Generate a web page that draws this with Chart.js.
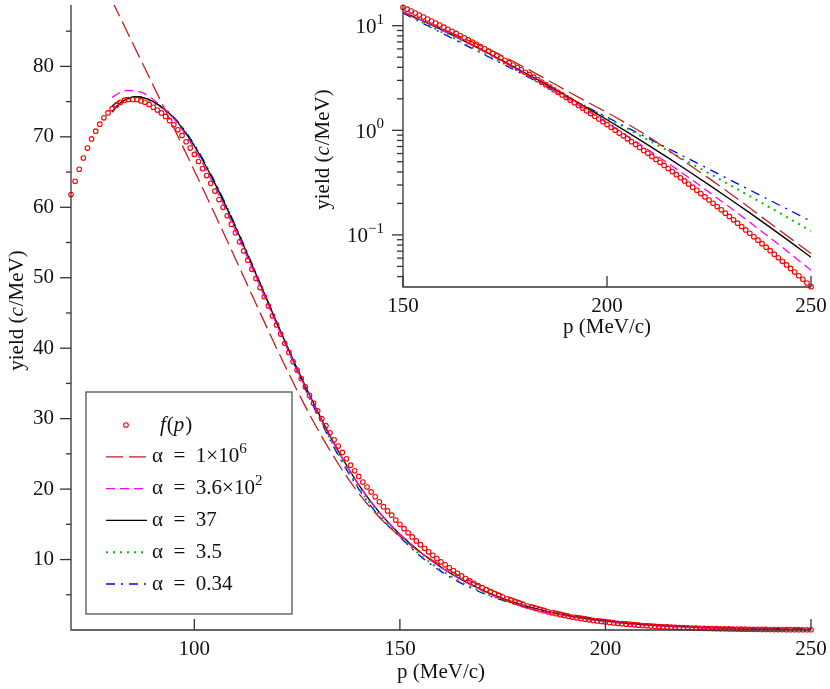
<!DOCTYPE html>
<html>
<head>
<meta charset="utf-8">
<script src="https://cdn.jsdelivr.net/npm/chart.js@4.4.0/dist/chart.umd.min.js"></script>
<style>
  body { margin: 0; background: #fff; }
  #wrap { position: relative; width: 830px; height: 689px; }
  #wrap canvas { position: absolute; top: 0; }
  #mainChart { left: 0; }
  #insetChart { left: 300px; }
</style>
</head>
<body>
<div id="wrap">
  <canvas id="mainChart" width="830" height="689"></canvas>
  <canvas id="insetChart" width="530" height="345"></canvas>
</div>
<script>
// ---- data ----

// momentum grid of the f(p) points, MeV/c
const pF = [70,71,72,73,74,75,76,77,78,79,80,81,82,83,84,85,86,87,88,89,
  90,91,92,93,94,95,96,97,98,99,100,101,102,103,104,105,106,107,108,109,
  110,111,112,113,114,115,116,117,118,119,120,121,122,123,124,125,126,127,128,129,
  130,131,132,133,134,135,136,137,138,139,140,141,142,143,144,145,146,147,148,149,
  150,151,152,153,154,155,156,157,158,159,160,161,162,163,164,165,166,167,168,169,
  170,171,172,173,174,175,176,177,178,179,180,181,182,183,184,185,186,187,188,189,
  190,191,192,193,194,195,196,197,198,199,200,201,202,203,204,205,206,207,208,209,
  210,211,212,213,214,215,216,217,218,219,220,221,222,223,224,225,226,227,228,229,
  230,231,232,233,234,235,236,237,238,239,240,241,242,243,244,245,246,247,248,249,250];

// f(p), yield in c/MeV
const fVals = [61.8,63.7,65.4,67.0,68.4,69.7,70.8,71.8,72.7,73.4,74.0,74.5,74.9,75.2,75.3,75.3,75.3,75.1,74.9,74.6,
  74.2,73.8,73.4,72.9,72.3,71.7,71.0,70.2,69.3,68.4,67.5,66.5,65.5,64.5,63.4,62.3,61.1,60.0,58.8,57.6,
  56.4,55.1,53.8,52.5,51.2,49.9,48.6,47.3,46.0,44.6,43.3,42.0,40.7,39.4,38.1,36.9,35.7,34.5,33.3,32.2,
  31.1,30.0,29.0,28.0,27.0,26.1,25.2,24.3,23.4,22.6,21.8,21.0,20.3,19.6,18.9,18.2,17.5,16.9,16.3,15.6,
  15.0,14.38,13.79,13.21,12.65,12.11,11.59,11.09,10.60,10.14,9.685,9.252,8.834,8.431,8.044,7.671,7.311,6.966,6.636,6.317,
  6.013,5.720,5.439,5.170,4.914,4.668,4.432,4.207,3.992,3.786,3.589,3.401,3.221,3.050,2.886,2.732,2.584,2.442,2.308,2.180,
  2.058,1.943,1.833,1.729,1.630,1.536,1.447,1.363,1.283,1.207,1.135,1.067,1.003,0.942,0.885,0.830,0.779,0.731,0.685,0.642,
  0.602,0.563,0.527,0.494,0.4616,0.4315,0.4034,0.3768,0.3519,0.3285,0.3065,0.2859,0.2666,0.2485,0.2315,0.2156,0.2007,0.1867,0.1737,0.1615,
  0.1501,0.1395,0.1296,0.1203,0.1116,0.1035,0.0960,0.0890,0.0824,0.0763,0.0707,0.0654,0.0605,0.0559,0.0517,0.0478,0.0441,0.0407,0.0376,0.0347,0.0320];

// grid for the fitted curves
const pFit = [80,82,84,86,88,90,95,100,105,110,115,120,125,130,135,140,145,150,
  155,160,165,170,175,180,185,190,195,200,205,210,215,220,225,230,235,240,245,250];

const fit1e6 = [89.3,86.9,84.5,82.1,79.7,77.3,71.3,65.2,59.0,52.7,46.3,40.0,34.0,28.5,23.6,19.4,16.0,13.3,
  11.0,9.16,7.55,6.21,5.01,3.96,3.09,2.40,1.88,1.48,1.15,0.88,0.645,0.473,0.347,0.252,0.181,0.129,0.0927,0.0664];
const fit360 = [75.6,76.3,76.6,76.5,76.1,75.3,72.6,68.3,62.9,56.7,50.1,43.4,36.9,30.9,25.4,20.6,16.7,13.6,
  11.05,8.89,7.10,5.62,4.42,3.45,2.67,2.05,1.557,1.176,0.882,0.655,0.483,0.354,0.2566,0.1848,0.1320,0.0936,0.0658,0.0459];
const fit37 = [73.6,74.8,75.5,75.7,75.5,75.0,72.7,68.7,63.4,57.2,50.5,43.7,37.1,31.0,25.4,20.6,16.7,13.6,
  11.05,8.91,7.14,5.68,4.49,3.53,2.76,2.14,1.648,1.262,0.960,0.726,0.545,0.406,0.301,0.222,0.1624,0.1181,0.0853,0.0612];
const fit3p5 = [73.5,74.7,75.4,75.6,75.4,74.9,72.7,68.8,63.5,57.3,50.6,43.7,37.0,30.7,25.0,20.2,16.3,13.3,
  10.64,8.50,6.78,5.39,4.28,3.40,2.69,2.12,1.675,1.318,1.036,0.812,0.636,0.497,0.388,0.302,0.2349,0.1823,0.1411,0.1091];
const fit0p34 = [74.4,75.2,75.6,75.7,75.5,75.0,72.8,68.9,63.6,57.4,50.6,43.6,36.8,30.5,24.8,20.0,16.1,13.2,
  10.46,8.32,6.62,5.27,4.19,3.33,2.65,2.11,1.677,1.334,1.061,0.844,0.671,0.534,0.425,0.338,0.2687,0.2137,0.1700,0.1352];

// ticks
const mainXTicks = [100, 150, 200, 250];
const mainYTicks = [10, 20, 30, 40, 50, 60, 70, 80];
const mainYMinor = [5, 15, 25, 35, 45, 55, 65, 75, 85];
const insetXTicks = [150, 200, 250];
const insetYTicks = [0.1, 1, 10];
const insetYExp = ['\u22121', '0', '1'];

// legend text, pieces so that italics and exponents can be drawn
const SP = '\u2002';
const legendParts = [
  [{t: 'f', it: true}, {t: '('}, {t: 'p', it: true}, {t: ')'}],
  [{t: '\u03b1' + SP + '=' + SP + '1\u00d710'}, {t: '6', sup: true}],
  [{t: '\u03b1' + SP + '=' + SP + '3.6\u00d710'}, {t: '2', sup: true}],
  [{t: '\u03b1' + SP + '=' + SP + '37'}],
  [{t: '\u03b1' + SP + '=' + SP + '3.5'}],
  [{t: '\u03b1' + SP + '=' + SP + '0.34'}]
];

const FONT = '"Liberation Serif", "DejaVu Serif", serif';
const FS = 21;
const AXIS = '#333';

function fontFor(p, size) {
  const s = p.sup ? Math.round(size * 0.7) : size;
  return (p.it ? 'italic ' : '') + s + 'px ' + FONT;
}

function drawParts(ctx, parts, x, y, align, size) {
  let w = 0;
  parts.forEach(p => { ctx.font = fontFor(p, size); w += ctx.measureText(p.t).width; });
  let cx = align === 'center' ? x - w / 2 : (align === 'right' ? x - w : x);
  ctx.textAlign = 'left';
  ctx.textBaseline = 'middle';
  parts.forEach(p => {
    ctx.font = fontFor(p, size);
    ctx.fillText(p.t, cx, p.sup ? y - size * 0.38 : y);
    cx += ctx.measureText(p.t).width + (p.it ? 1 : 0);
  });
}

function seg(ctx, x1, y1, x2, y2) {
  ctx.beginPath(); ctx.moveTo(x1, y1); ctx.lineTo(x2, y2); ctx.stroke();
}

const yTitle = [{t: 'yield ('}, {t: 'c', it: true}, {t: '/MeV)'}];
const xTitle = [{t: 'p (MeV/c)'}];

function makeSets(pMin) {
  const pts = (xs, ys) => xs.map((x, i) => ({x: x, y: ys[i]})).filter(d => d.x >= pMin);
  const line = (vals, color, dash, width) => ({
    data: pts(pFit, vals), showLine: true, borderColor: color, borderWidth: width,
    borderDash: dash, pointRadius: 0, cubicInterpolationMode: 'monotone', fill: false, order: 1
  });
  return [
    {data: pts(pF, fVals), showLine: false, pointRadius: 2.3, pointBorderWidth: 1.1,
     pointBorderColor: '#ff0000', pointBackgroundColor: 'rgba(0,0,0,0)', order: 0, clip: 4},
    line(fit1e6, '#c41e1e', [17, 6], 1.3),
    line(fit360, '#ff00ff', [9, 5], 1.3),
    line(fit37, '#000000', [], 1.3),
    line(fit3p5, '#00c000', [2, 5], 2),
    line(fit0p34, '#0000ff', [9, 6, 2, 6], 1.3)
  ];
}

const mainAxes = {
  id: 'mainAxes',
  afterDraw(chart) {
    const {ctx, chartArea: a, scales: {x, y}} = chart;
    ctx.save();
    ctx.strokeStyle = AXIS; ctx.lineWidth = 1.3; ctx.setLineDash([]);
    ctx.beginPath();
    ctx.moveTo(a.left, a.top); ctx.lineTo(a.left, a.bottom); ctx.lineTo(a.right, a.bottom);
    ctx.stroke();
    ctx.fillStyle = '#111';
    mainYMinor.forEach(v => { const py = y.getPixelForValue(v); seg(ctx, a.left - 5, py, a.left, py); });
    mainYTicks.forEach(v => {
      const py = y.getPixelForValue(v);
      seg(ctx, a.left - 11, py, a.left, py);
      drawParts(ctx, [{t: String(v)}], a.left - 17, py, 'right', FS);
    });
    mainXTicks.forEach(v => {
      const px = x.getPixelForValue(v);
      seg(ctx, px, a.bottom, px, a.bottom - 11);
      drawParts(ctx, [{t: String(v)}], px, a.bottom + 19, 'center', FS);
    });
    drawParts(ctx, xTitle, (a.left + a.right) / 2, 672, 'center', FS);
    ctx.save();
    ctx.translate(17, 311);
    ctx.rotate(-Math.PI / 2);
    drawParts(ctx, yTitle, 0, 0, 'center', FS);
    ctx.restore();

    // legend box
    ctx.strokeStyle = '#555'; ctx.lineWidth = 1.3;
    ctx.strokeRect(86, 392, 206, 222);
    const sets = chart.data.datasets;
    legendParts.forEach((parts, i) => {
      const ly = 425 + i * 31.8;
      const ds = sets[i];
      if (i === 0) {
        ctx.beginPath();
        ctx.strokeStyle = ds.pointBorderColor; ctx.lineWidth = ds.pointBorderWidth;
        ctx.arc(126, ly, ds.pointRadius, 0, Math.PI * 2);
        ctx.stroke();
        drawParts(ctx, parts, 160, ly, 'left', FS);
      } else {
        ctx.strokeStyle = ds.borderColor; ctx.lineWidth = ds.borderWidth;
        ctx.setLineDash(ds.borderDash);
        seg(ctx, 106, ly, 147, ly);
        ctx.setLineDash([]);
        drawParts(ctx, parts, 152, ly, 'left', FS);
      }
    });
    ctx.restore();
  }
};

const insetAxes = {
  id: 'insetAxes',
  afterDraw(chart) {
    const {ctx, chartArea: a, scales: {x, y}} = chart;
    ctx.save();
    ctx.strokeStyle = AXIS; ctx.lineWidth = 1.3; ctx.setLineDash([]);
    ctx.beginPath();
    ctx.moveTo(a.left, a.top); ctx.lineTo(a.left, a.bottom); ctx.lineTo(a.right, a.bottom);
    ctx.stroke();
    ctx.fillStyle = '#111';
    // minor log ticks
    [0.01, 0.1, 1, 10].forEach(dec => {
      for (let m = 2; m <= 9; m++) {
        const v = m * dec;
        if (v < y.min || v > y.max) continue;
        const py = y.getPixelForValue(v);
        seg(ctx, a.left - 6, py, a.left, py);
      }
    });
    insetYTicks.forEach((v, i) => {
      const py = y.getPixelForValue(v);
      seg(ctx, a.left - 11, py, a.left, py);
      drawParts(ctx, [{t: '10'}, {t: insetYExp[i], sup: true}], a.left - 19, py + 2, 'right', FS);
    });
    insetXTicks.forEach(v => {
      const px = x.getPixelForValue(v);
      seg(ctx, px, a.bottom, px, a.bottom - 11);
      drawParts(ctx, [{t: String(v)}], px, a.bottom + 19, 'center', FS);
    });
    drawParts(ctx, xTitle, (a.left + a.right) / 2, a.bottom + 40, 'center', FS);
    ctx.save();
    ctx.translate(a.left - 80, 150);
    ctx.rotate(-Math.PI / 2);
    drawParts(ctx, yTitle, 0, 0, 'center', FS);
    ctx.restore();
    ctx.restore();
  }
};

const common = {
  responsive: false,
  animation: false,
  devicePixelRatio: 1,
  events: [],
  plugins: { legend: { display: false }, tooltip: { enabled: false } }
};

new Chart(document.getElementById('mainChart'), {
  type: 'scatter',
  data: { datasets: makeSets(0) },
  options: Object.assign({}, common, {
    layout: { padding: { left: 71, right: 19, top: 0, bottom: 59 } },
    scales: {
      x: { type: 'linear', min: 70, max: 250, display: false },
      y: { type: 'linear', min: 0, max: 88.7, display: false }
    }
  }),
  plugins: [mainAxes]
});

new Chart(document.getElementById('insetChart'), {
  type: 'scatter',
  data: { datasets: makeSets(150) },
  options: Object.assign({}, common, {
    layout: { padding: { left: 103, right: 19, top: 0, bottom: 58 } },
    scales: {
      x: { type: 'linear', min: 150, max: 250, display: false },
      y: { type: 'logarithmic', min: 0.03178, max: 15.74, display: false }
    }
  }),
  plugins: [insetAxes]
});
</script>
</body>
</html>
